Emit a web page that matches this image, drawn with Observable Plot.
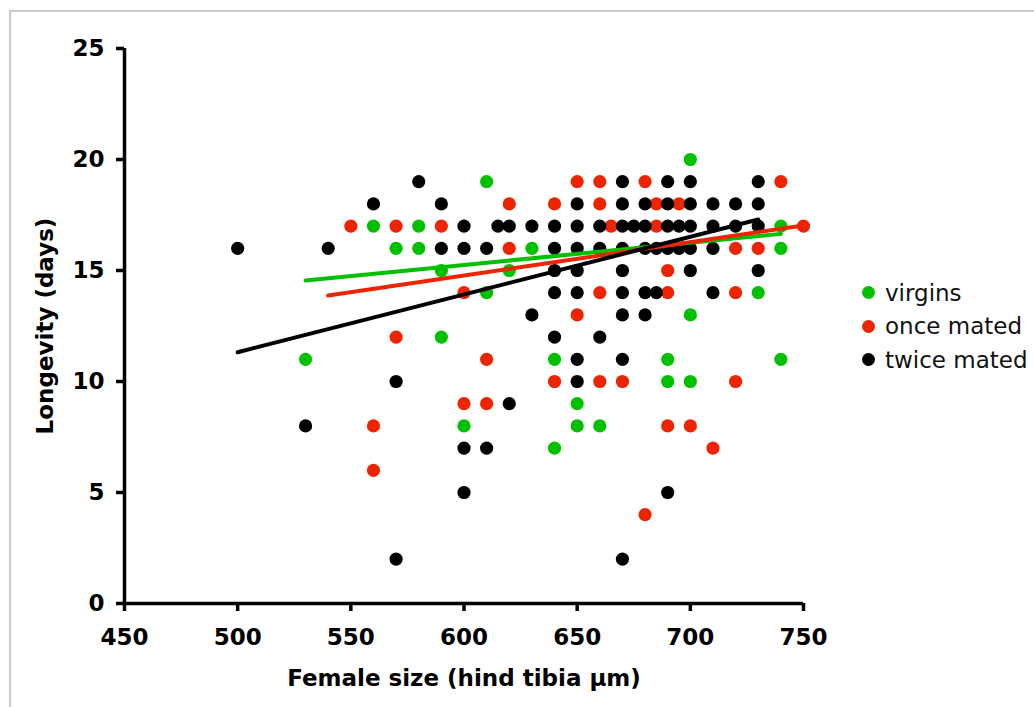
<!DOCTYPE html>
<html><head><meta charset="utf-8">
<script src="https://cdn.jsdelivr.net/npm/d3@7"></script>
<script src="https://cdn.jsdelivr.net/npm/@observablehq/plot@0.6"></script>
<style>
html,body{margin:0;padding:0;background:#fff;width:1034px;height:707px;overflow:hidden;}
#frame{position:absolute;left:9px;top:10px;width:1100px;height:800px;border-top:2px solid #cbcbcb;border-left:2px solid #cbcbcb;}
#chart{position:absolute;left:0;top:0;}
#legend{position:absolute;left:862px;top:276px;font-family:"DejaVu Sans";font-size:23px;color:#111;}
.row{display:flex;align-items:center;height:33.5px;}
.sw{width:13px;height:13px;border-radius:50%;margin-right:10px;flex:none;}
</style></head><body>
<div id="frame"></div><div id="chart"></div><div id="legend"></div>
<script>
const seriesNames = ["virgins", "once mated", "twice mated"];
const seriesColors = ["#00c000", "#ec2400", "#000000"];
const xDomain = [450, 750];
const yDomain = [0, 25];
const xTicks = [450, 500, 550, 600, 650, 700, 750];
const yTicks = [0, 5, 10, 15, 20, 25];
const xTitle = "Female size (hind tibia µm)";
const yTitle = "Longevity (days)";

// [female size, longevity]
const virgins = [
  [700,20],[610,19],[560,17],[580,17],[740,17],[570,16],[580,16],[630,16],[740,16],
  [590,15],[620,15],[610,14],[730,14],[700,13],[590,12],[530,11],[640,11],[690,11],
  [740,11],[690,10],[700,10],[650,9],[600,8],[650,8],[660,8],[640,7]
];
const onceMated = [
  [650,19],[660,19],[680,19],[740,19],[620,18],[640,18],[660,18],[685,18],[695,18],
  [550,17],[570,17],[590,17],[665,17],[685,17],[750,17],[620,16],[720,16],[730,16],
  [690,15],[600,14],[660,14],[690,14],[720,14],[650,13],[570,12],[610,11],
  [640,10],[660,10],[670,10],[720,10],[600,9],[610,9],[560,8],[690,8],[700,8],
  [710,7],[560,6],[680,4]
];
const twiceMated = [
  [580,19],[670,19],[690,19],[700,19],[730,19],
  [560,18],[590,18],[650,18],[670,18],[680,18],[690,18],[700,18],[710,18],[720,18],[730,18],
  [600,17],[615,17],[620,17],[630,17],[640,17],[650,17],[660,17],[670,17],[675,17],[680,17],
  [690,17],[695,17],[700,17],[710,17],[720,17],[730,17],
  [500,16],[540,16],[590,16],[600,16],[610,16],[640,16],[650,16],[660,16],[670,16],[680,16],
  [685,16],[690,16],[695,16],[700,16],[710,16],
  [640,15],[650,15],[670,15],[700,15],[730,15],
  [640,14],[650,14],[670,14],[680,14],[685,14],[710,14],
  [630,13],[670,13],[680,13],[640,12],[660,12],[650,11],[670,11],[570,10],[650,10],
  [620,9],[530,8],[600,7],[610,7],[600,5],[690,5],[570,2],[670,2]
];
// fitted regression lines (end points)
const virginsFit = [[530,14.55],[740,16.65]];
const onceMatedFit = [[540,13.87],[750,17.03]];
const twiceMatedFit = [[500,11.32],[730,17.3]];

const groups = [virgins, onceMated, twiceMated];
const fits = [virginsFit, onceMatedFit, twiceMatedFit];

const marks = [];
groups.forEach((g, i) => {
  marks.push(Plot.dot(g, {x: d => d[0], y: d => d[1], r: 6.6, fill: seriesColors[i], stroke: "none"}));
});
fits.forEach((f, i) => {
  marks.push(Plot.line(f, {x: d => d[0], y: d => d[1], stroke: seriesColors[i], strokeWidth: 4}));
});
marks.push(Plot.ruleX([xDomain[0]], {y1: yDomain[0], y2: yDomain[1], strokeWidth: 3.5, stroke: "#000"}));
marks.push(Plot.ruleY([yDomain[0]], {x1: xDomain[0], x2: xDomain[1], strokeWidth: 3.5, stroke: "#000"}));
marks.push(Plot.axisX({ticks: xTicks, tickSize: 8, tickPadding: 17, strokeWidth: 3.5, fontSize: 23, fontWeight: "bold",
  tickFormat: d => String(d),
  label: xTitle, labelAnchor: "center", labelOffset: 82, labelArrow: "none"}));
marks.push(Plot.axisY({ticks: yTicks, tickSize: 8, tickPadding: 12, strokeWidth: 3.5, fontSize: 23, fontWeight: "bold",
  tickFormat: d => String(d),
  label: yTitle, labelAnchor: "center", labelOffset: 88, labelArrow: "none"}));

const chart = Plot.plot({
  width: 1034, height: 707,
  marginLeft: 124, marginRight: 231, marginTop: 48, marginBottom: 104,
  x: {domain: xDomain},
  y: {domain: yDomain},
  style: {fontFamily: "DejaVu Sans", fontSize: "23px", color: "#000", background: "transparent", overflow: "visible"},
  marks
});
document.getElementById("chart").appendChild(chart);

const legend = document.getElementById("legend");
seriesNames.forEach((n, i) => {
  const row = document.createElement("div");
  row.className = "row";
  const sw = document.createElement("span");
  sw.className = "sw";
  sw.style.background = seriesColors[i];
  const t = document.createElement("span");
  t.textContent = n;
  row.appendChild(sw); row.appendChild(t);
  legend.appendChild(row);
});
</script>
</body></html>
